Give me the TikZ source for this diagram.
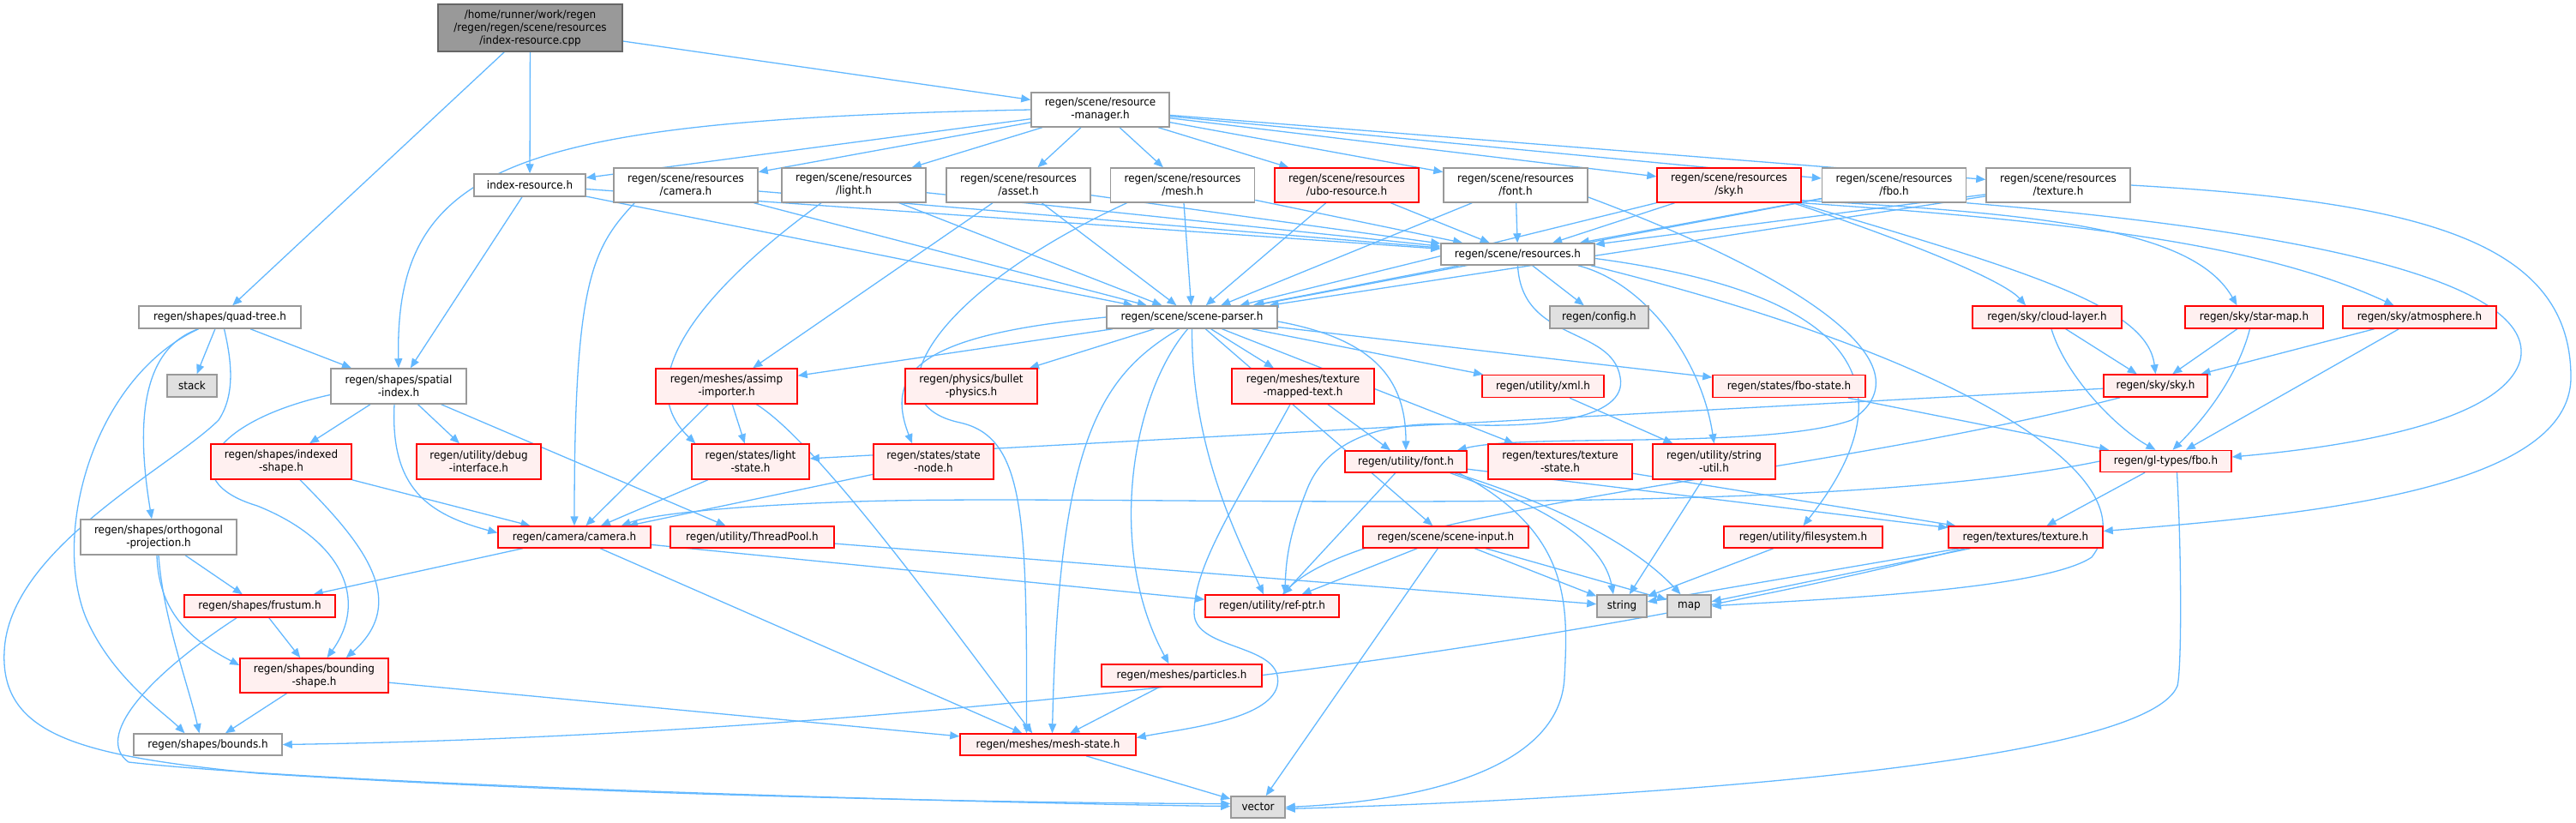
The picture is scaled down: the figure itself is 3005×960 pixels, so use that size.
\documentclass[tikz,border=0pt]{standalone}
\usepackage{fontspec}
\setmainfont{DejaVu Sans}[FakeStretch=0.92]
\usetikzlibrary{arrows.meta,calc}
\definecolor{edgeblue}{HTML}{63B8FF}
\definecolor{nodegray}{HTML}{999999}
\definecolor{nodered}{HTML}{FF0000}
\definecolor{nodepink}{HTML}{FFF0F0}
\definecolor{sysfill}{HTML}{E0E0E0}
\definecolor{sysborder}{HTML}{999999}
\definecolor{rootfill}{HTML}{999999}
\definecolor{rootborder}{HTML}{666666}
\pgfdeclarelayer{bg}
\pgfsetlayers{bg,main}
\newcommand\gnode[6]{\node[#1, minimum width=#4pt, minimum height=#5pt] (#2) at (#3) {#6};}
\tikzset{
  nb/.style={draw=nodegray, fill=white, line width=1.5pt, inner sep=0pt, align=center,
    font=\fontsize{13pt}{15pt}\selectfont},
  nr/.style={nb, draw=nodered, fill=nodepink},
  ns/.style={nb, draw=sysborder, fill=sysfill},
  nroot/.style={nb, draw=rootborder, fill=rootfill},
  e/.style={draw=edgeblue, line width=1.3pt, -{Triangle[length=11pt,width=9pt]}},
}
\begin{document}
\begin{tikzpicture}[x=1pt,y=-1pt]
\useasboundingbox (0,0) rectangle (3005,960);
% rank 0
\gnode{nroot}{root}{618.5,32.5}{215}{55}{/home/runner/work/regen\\/regen/regen/scene/resources\\/index-resource.cpp}
\gnode{nb}{rm}{1283.5,128}{161}{40}{regen/scene/resource\\-manager.h}
% rank 2
\gnode{nb}{idx}{618,216}{130}{26}{index-resource.h}
\gnode{nb}{rcamera}{800,216}{168}{40}{regen/scene/resources\\/camera.h}
\gnode{nb}{rlight}{996,216}{168}{40}{regen/scene/resources\\/light.h}
\gnode{nb}{rasset}{1188,216}{168}{40}{regen/scene/resources\\/asset.h}
\gnode{nb}{rmesh}{1379.5,216}{168}{40}{regen/scene/resources\\/mesh.h}
\gnode{nr}{rubo}{1571,216}{168}{40}{regen/scene/resources\\/ubo-resource.h}
\gnode{nb}{rfont}{1768,216}{168}{40}{regen/scene/resources\\/font.h}
\gnode{nr}{rsky}{2017,216}{168}{40}{regen/scene/resources\\/sky.h}
\gnode{nb}{rfbo}{2209.5,216}{168}{40}{regen/scene/resources\\/fbo.h}
\gnode{nb}{rtexture}{2401,216}{168}{40}{regen/scene/resources\\/texture.h}
% rank 3
\gnode{nb}{resources}{1770.5,296.5}{179}{25}{regen/scene/resources.h}
\gnode{nb}{quad}{256.5,370}{189}{26}{regen/shapes/quad-tree.h}
\gnode{nb}{parser}{1390.5,370}{199}{26}{regen/scene/scene-parser.h}
\gnode{ns}{config}{1865.5,370}{115}{26}{regen/config.h}
\gnode{nr}{cloud}{2388,370}{174}{26}{regen/sky/cloud-layer.h}
\gnode{nr}{starmap}{2629.5,370}{161}{26}{regen/sky/star-map.h}
\gnode{nr}{atmos}{2822.5,370}{179}{26}{regen/sky/atmosphere.h}
% rank 4
\gnode{ns}{stack}{224,450}{58}{26}{stack}
\gnode{nb}{spatial}{465,450.5}{158}{41}{regen/shapes/spatial\\-index.h}
\gnode{nr}{assimp}{847.5,450.5}{165}{41}{regen/meshes/assimp\\-importer.h}
\gnode{nr}{bullet}{1133,450.5}{154}{41}{regen/physics/bullet\\-physics.h}
\gnode{nr}{mapped}{1520,450.5}{166}{41}{regen/meshes/texture\\-mapped-text.h}
\gnode{nr}{xml}{1800,450.5}{142}{26}{regen/utility/xml.h}
\gnode{nr}{fbostate}{2087,450.5}{178}{26}{regen/states/fbo-state.h}
\gnode{nr}{skysky}{2514.5,450}{121}{26}{regen/sky/sky.h}
% rank 5
\gnode{nr}{indexed}{328,538.5}{164}{41}{regen/shapes/indexed\\-shape.h}
\gnode{nr}{debug}{558.5,538.5}{145}{41}{regen/utility/debug\\-interface.h}
\gnode{nr}{lightstate}{875.5,538.5}{137}{41}{regen/states/light\\-state.h}
\gnode{nr}{statenode}{1089,538.5}{140}{41}{regen/states/state\\-node.h}
\gnode{nr}{ufont}{1640,538.5}{142}{25}{regen/utility/font.h}
\gnode{nr}{texstate}{1820,538.5}{168}{41}{regen/textures/texture\\-state.h}
\gnode{nr}{strutil}{1999.5,538.5}{143}{41}{regen/utility/string\\-util.h}
\gnode{nr}{glfbo}{2526.5,538}{153}{25}{regen/gl-types/fbo.h}
% rank 6
\gnode{nb}{ortho}{185,626.5}{182}{41}{regen/shapes/orthogonal\\-projection.h}
\gnode{nr}{camera}{670,626.5}{178}{25}{regen/camera/camera.h}
\gnode{nr}{threadpool}{877.5,626.5}{191}{25}{regen/utility/ThreadPool.h}
\gnode{nr}{sceneinput}{1686.5,626.5}{193}{25}{regen/scene/scene-input.h}
\gnode{nr}{filesystem}{2103.5,626.5}{185}{25}{regen/utility/filesystem.h}
\gnode{nr}{texture}{2363,626.5}{180}{25}{regen/textures/texture.h}
% rank 7
\gnode{nr}{frustum}{303,707}{176}{26}{regen/shapes/frustum.h}
\gnode{nr}{refptr}{1484,707}{156}{26}{regen/utility/ref-ptr.h}
\gnode{ns}{string}{1892,707}{58}{26}{string}
\gnode{ns}{map}{1970.5,707}{51}{26}{map}
% rank 8
\gnode{nr}{bounding}{366.5,788}{173}{40}{regen/shapes/bounding\\-shape.h}
\gnode{nr}{particles}{1378.5,788}{187}{26}{regen/meshes/particles.h}
% rank 9
\gnode{nb}{bounds}{242.5,868.5}{173}{25}{regen/shapes/bounds.h}
\gnode{nr}{meshstate}{1222.5,868.5}{205}{25}{regen/meshes/mesh-state.h}
\gnode{ns}{vector}{1467.5,941.5}{63}{25}{vector}

\begin{pgfonlayer}{bg}
% root
\draw[e] (root) -- (rm);
\draw[e] (root) -- (idx);
\draw[e] (root) -- (quad);
% resource manager
\draw[e] (rm) -- (idx);
\draw[e] (rm.west) .. controls (600,140) and (460,190) .. (spatial.north);
\foreach \t in {rcamera,rlight,rasset,rmesh,rubo,rfont,rsky,rfbo,rtexture} {\draw[e] (rm) -- (\t);}
% resources headers -> resources.h and scene-parser.h
\foreach \s in {idx,rcamera,rlight,rasset,rmesh,rubo,rfont,rsky,rfbo,rtexture} {\draw[e] (\s) -- (resources); \draw[e] (\s) -- (parser);}
\draw[e] (idx) -- (spatial);
\draw[e] ($(rcamera.south west)+(25,0)$) .. controls (690,290) and (670,330) .. (camera.north);
\draw[e] ($(rlight.south)+(-38,0)$) .. controls (830,330) and (730,440) .. ($(lightstate.north west)+(5,0)$);
\draw[e] (rasset) -- (assimp);
\draw[e] ($(rmesh.south)+(-65,0)$) .. controls (1090,340) and (1010,470) .. (1120,493) .. controls (1195,510) and (1198,600) .. ($(meshstate.north)+(-25,0)$);
\draw[e] ($(rfont.east)+(0,14)$) .. controls (2120,330) and (2250,430) .. (2160,490) .. controls (2060,525) and (1780,505) .. ($(ufont.north east)+(-12,0)$);
\draw[e] ($(rsky.south east)+(-10,0)$) .. controls (2250,290) and (2340,330) .. ($(cloud.north)+(-25,0)$);
\draw[e] ($(rsky.south east)+(-5,0)$) .. controls (2380,320) and (2505,360) .. (skysky.north);
\draw[e] ($(rsky.south east)+(0,-3)$) .. controls (2400,250) and (2560,270) .. ($(starmap.north)+(-20,0)$);
\draw[e] (rsky.south east) .. controls (2450,260) and (2650,290) .. ($(atmos.north)+(-30,0)$);
\draw[e] (rfbo.south east) .. controls (2700,270) and (2960,330) .. (2940,420) .. controls (2920,490) and (2750,520) .. ($(glfbo.east)+(0,-5)$);
\draw[e] (rtexture.east) .. controls (2820,235) and (2999,280) .. (2999,440) .. controls (2999,570) and (2700,600) .. ($(texture.east)+(0,-7)$);
% resources.h
\draw[e] (resources) -- (parser);
\draw[e] (resources) -- (config);
\draw[e] (resources.south) .. controls (1775,400) and (1880,380) .. (1890,440) .. controls (1900,490) and (1790,500) .. (1700,495) .. controls (1600,490) and (1545,520) .. (1525,570) .. controls (1505,620) and (1500,650) .. ($(refptr.north)+(15,0)$);
\draw[e] ($(resources.south east)+(-20,0)$) .. controls (1920,330) and (1985,420) .. (strutil.north);
\draw[e] ($(resources.east)+(0,5)$) .. controls (2150,340) and (2240,440) .. (filesystem.north);
\draw[e] ($(resources.south east)+(-5,0)$) .. controls (2300,420) and (2510,560) .. (2440,650) .. controls (2380,690) and (2100,700) .. (map.east);
% scene-parser
\foreach \t in {assimp,bullet,mapped,xml,fbostate,texstate,sceneinput} {\draw[e] (parser) -- (\t);}
\draw[e] (parser.west) .. controls (1080,390) and (1030,430) .. ($(statenode.north)+(-25,0)$);
\draw[e] ($(parser.east)+(0,5)$) .. controls (1600,395) and (1640,440) .. (ufont.north);
\draw[e] ($(parser.south)+(-15,0)$) .. controls (1280,440) and (1235,520) .. ($(meshstate.north)+(5,0)$);
\draw[e] ($(parser.south)+(-5,0)$) .. controls (1320,460) and (1290,640) .. ($(particles.north)+(-15,0)$);
\draw[e] (parser.south) .. controls (1390,520) and (1440,620) .. ($(refptr.north)+(-10,0)$);
% assimp
\draw[e] (assimp) -- (lightstate);
\draw[e] (assimp) -- (camera);
\draw[e] ($(assimp.south)+(35,0)$) .. controls (960,520) and (1130,760) .. ($(meshstate.north west)+(85,0)$);
% spatial index
\draw[e] (spatial) -- (indexed);
\draw[e] (spatial) -- (debug);
\draw[e] (spatial) -- (threadpool);
\draw[e] ($(spatial.south)+(-5,0)$) .. controls (455,570) and (500,600) .. ($(camera.west)+(0,-5)$);
\draw[e] ($(spatial.west)+(0,10)$) .. controls (250,490) and (200,560) .. (300,590) .. controls (400,630) and (430,700) .. ($(bounding.north)+(15,0)$);
\draw[e] (indexed) -- (camera);
\draw[e] ($(indexed.south)+(22,0)$) .. controls (420,630) and (480,700) .. ($(bounding.north east)+(-50,0)$);
% quad tree
\draw[e] (quad) -- (stack);
\draw[e] (quad) -- (spatial);
\draw[e] ($(quad.south)+(-25,0)$) .. controls (155,410) and (163,520) .. ($(ortho.north)+(-8,0)$);
\draw[e] ($(quad.south)+(-25,0)$) .. controls (110,440) and (60,620) .. (100,720) .. controls (130,790) and (190,830) .. ($(bounds.north)+(-27,0)$);
\draw[e] ($(quad.south)+(5,0)$) .. controls (270,420) and (275,460) .. (255,490) .. controls (200,545) and (10,640) .. (5,760) .. controls (0,860) and (100,882) .. (300,902) .. controls (700,928) and (1200,937) .. ($(vector.west)+(0,-4)$);
% orthogonal, frustum, bounding
\draw[e] (ortho) -- (frustum);
\draw[e] (ortho.south) .. controls (190,720) and (220,800) .. ($(bounds.north)+(-10,0)$);
\draw[e] ($(ortho.south)+(-2,0)$) .. controls (185,720) and (230,750) .. ($(bounding.west)+(0,-12)$);
\draw[e] (frustum) -- (bounding);
\draw[e] ($(frustum.south)+(-27,0)$) .. controls (170,790) and (110,860) .. (150,889) .. controls (400,917) and (1200,938) .. ($(vector.west)+(0,-1)$);
\draw[e] (bounding) -- (bounds);
\draw[e] (bounding) -- (meshstate);
% camera
\draw[e] (camera) -- (frustum);
\draw[e] (camera) -- (refptr);
\draw[e] (camera) -- (meshstate);
\draw[e] (lightstate) -- (camera);
\draw[e] (statenode) -- (camera);
\draw[e] (threadpool) -- (string);
\draw[e] (meshstate) -- (vector);
\draw[e] (particles) -- (meshstate);
% mapped text
\draw[e] (mapped) -- (ufont);
\draw[e] ($(mapped.south)+(-15,0)$) .. controls (1440,590) and (1393,660) .. (1393,715) .. controls (1393,760) and (1500,750) .. (1490,800) .. controls (1480,840) and (1380,850) .. ($(meshstate.east)+(0,-8)$);
\draw[e] (xml) -- (strutil);
\draw[e] (fbostate) -- (glfbo);
% utility font
\draw[e] (ufont) -- (refptr);
\draw[e] ($(ufont.south east)+(-20,0)$) .. controls (1800,590) and (1870,630) .. ($(string.north)+(-10,0)$);
\draw[e] ($(ufont.south east)+(-15,0)$) .. controls (1850,600) and (1920,650) .. ($(map.north)+(-10,0)$);
\draw[e] (ufont) -- (texture);
\draw[e] ($(ufont.south east)+(-10,0)$) .. controls (1830,620) and (1830,700) .. (1825,790) .. controls (1820,900) and (1650,935) .. (vector.east);
\draw[e] (texstate) -- (texture);
\draw[e] (strutil) -- (string);
\draw[e] (filesystem) -- (string);
% scene input
\draw[e] (sceneinput) -- (refptr);
\draw[e] (sceneinput) -- (string);
\draw[e] (sceneinput) -- (map);
\draw[e] (sceneinput) -- (vector);
% texture
\draw[e] (texture) -- (string);
\draw[e] (texture) -- (map);
\draw[e] ($(texture.south west)+(20,0)$) .. controls (1700,790) and (900,860) .. (bounds.east);
% gl fbo
\draw[e] (glfbo) -- (texture);
\draw[e] ($(glfbo.south)+(13,0)$) .. controls (2545,650) and (2545,780) .. (2540,800) .. controls (2500,900) and (1800,935) .. ($(vector.east)+(0,2)$);
\draw[e] (glfbo.west) .. controls (2100,610) and (1300,575) .. (1000,585) .. controls (850,590) and (760,600) .. ($(camera.north east)+(-35,0)$);
% sky
\draw[e] (cloud) -- (skysky);
\draw[e] ($(cloud.south)+(5,0)$) .. controls (2410,440) and (2470,500) .. ($(glfbo.north)+(-12,0)$);
\draw[e] (starmap) -- (skysky);
\draw[e] ($(starmap.south)+(-5,0)$) .. controls (2610,440) and (2570,490) .. ($(glfbo.north)+(8,0)$);
\draw[e] (atmos) -- (skysky);
\draw[e] (atmos) -- (glfbo);
\draw[e] (skysky) -- (lightstate);
\draw[e] ($(skysky.south west)+(20,0)$) .. controls (2100,560) and (1600,590) .. ($(refptr.north)+(12,0)$);
\end{pgfonlayer}
\end{tikzpicture}
\end{document}
